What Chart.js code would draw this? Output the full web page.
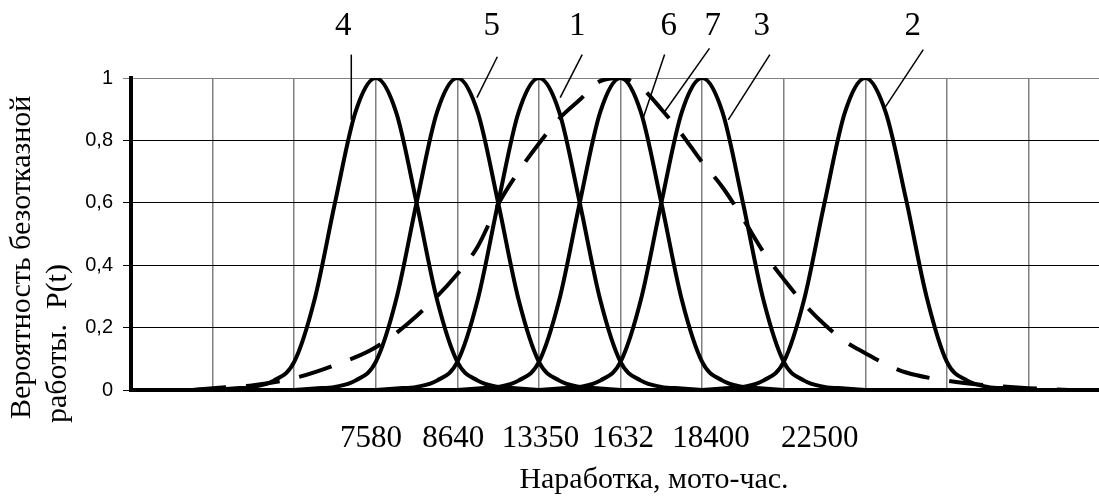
<!DOCTYPE html>
<html>
<head>
<meta charset="utf-8">
<script src="https://cdn.jsdelivr.net/npm/chart.js@4.4.1/dist/chart.umd.min.js"></script>
<style>
html,body{margin:0;padding:0;overflow:hidden;background:#fff}
#wrap{width:1180px;height:499px;position:relative}
</style>
</head>
<body>
<div id="wrap"><canvas id="c"></canvas></div>
<script>
// x is measured in grid intervals (one vertical grid cell = 1 unit)
const bellOffsets = [-2,-1.75,-1.5,-1.25,-1,-0.75,-0.5,-0.25,0,0.25,0.5,0.75,1,1.25,1.5,1.75,2];
const curveNames = ['1','2','3','4','5','6'];
const curvePeaks = [5, 9, 7, 3, 4, 6];
const curve1 = [0,0.005,0.01,0.03,0.09,0.29,0.6,0.89,1,0.89,0.6,0.29,0.09,0.03,0.01,0.005,0];
const curve2 = [0,0.005,0.01,0.03,0.09,0.29,0.6,0.89,1,0.89,0.61,0.3,0.09,0.03,0.01,0.005,0];
const curve3 = [0,0.005,0.01,0.03,0.09,0.29,0.6,0.89,1,0.89,0.6,0.29,0.09,0.03,0.01,0.005,0];
const curve4 = [0,0.005,0.01,0.03,0.09,0.29,0.6,0.89,1,0.89,0.6,0.29,0.09,0.03,0.01,0.005,0];
const curve5 = [0,0.005,0.01,0.03,0.09,0.29,0.6,0.89,1,0.89,0.6,0.29,0.09,0.03,0.01,0.005,0];
const curve6 = [0,0.005,0.01,0.03,0.09,0.29,0.6,0.89,1,0.89,0.6,0.29,0.09,0.03,0.01,0.005,0];
const curve7X = [0.75,1,1.5,2,2.5,3,3.5,4,4.25,4.5,4.75,5,5.25,5.5,5.75,6,6.25,6.5,6.75,7,7.25,7.5,7.75,8,8.25,8.5,8.75,9,9.25,9.5,10,10.5,11,11.5];
const curve7Y = [0,0.006,0.015,0.038,0.08,0.137,0.237,0.372,0.46,0.595,0.70,0.79,0.87,0.93,0.99,1,0.97,0.9,0.82,0.73,0.65,0.55,0.443,0.355,0.276,0.21,0.156,0.118,0.083,0.056,0.03,0.015,0.006,0];
const xGridLines = [0,1,2,3,4,5,6,7,8,9,10,11,12];
const xTickPos = [2.94,3.95,5.02,6.03,7.11,8.44];
const xTickLabels = ['7580','8640','13350','1632','18400','22500'];
const yTickValues = [0,0.2,0.4,0.6,0.8,1];
const yTickLabels = ['0','0,2','0,4','0,6','0,8','1'];
const xTitle = 'Наработка, мото-час.';
const yTitleLines = ['Вероятность безотказной', 'работы.  P(t)'];

// callout labels with leader lines (data units)
const callouts = [
  {text:'4', tx:2.60, ty:1.165, x1:2.70, y1:1.075, x2:2.70, y2:0.866},
  {text:'5', tx:4.42, ty:1.165, x1:4.49, y1:1.068, x2:4.24, y2:0.937},
  {text:'1', tx:5.47, ty:1.165, x1:5.53, y1:1.075, x2:5.26, y2:0.937},
  {text:'6', tx:6.59, ty:1.165, x1:6.54, y1:1.075, x2:6.27, y2:0.866},
  {text:'7', tx:7.13, ty:1.165, x1:7.09, y1:1.095, x2:6.54, y2:0.892},
  {text:'3', tx:7.73, ty:1.165, x1:7.83, y1:1.075, x2:7.32, y2:0.866},
  {text:'2', tx:9.58, ty:1.165, x1:9.71, y1:1.091, x2:9.24, y2:0.905}
];

const bells = [curve1, curve2, curve3, curve4, curve5, curve6];
const datasets = curvePeaks.map((p, i) => ({
  label: curveNames[i],
  data: bellOffsets.map((o, j) => ({x: p + o, y: bells[i][j]})),
  borderColor: '#000', borderWidth: 4, pointRadius: 0,
  cubicInterpolationMode: 'monotone', fill: false
}));
datasets.push({
  label: '7',
  data: curve7X.map((x, j) => ({x: x, y: curve7Y[j]})),
  borderColor: '#000', borderWidth: 4, pointRadius: 0, borderDash: [34, 20],
  cubicInterpolationMode: 'monotone', fill: false
});

const overlay = {
  id: 'overlay',
  afterDraw(chart) {
    const ctx = chart.ctx, xs = chart.scales.x, ys = chart.scales.y;
    ctx.save();
    ctx.strokeStyle = '#000'; ctx.fillStyle = '#000'; ctx.lineWidth = 1.5;
    ctx.font = '33px "Liberation Serif"';
    ctx.textAlign = 'center'; ctx.textBaseline = 'middle';
    callouts.forEach(c => {
      ctx.beginPath();
      ctx.moveTo(xs.getPixelForValue(c.x1), ys.getPixelForValue(c.y1));
      ctx.lineTo(xs.getPixelForValue(c.x2), ys.getPixelForValue(c.y2));
      ctx.stroke();
      ctx.fillText(c.text, xs.getPixelForValue(c.tx), ys.getPixelForValue(c.ty));
    });
    ctx.font = '30px "Liberation Serif"';
    ctx.textAlign = 'left';
    const yPos = [[22, 419], [58, 423]];
    yTitleLines.forEach((t, i) => {
      ctx.save();
      ctx.translate(yPos[i][0], yPos[i][1]);
      ctx.rotate(-Math.PI / 2);
      ctx.fillText(t, 0, 0);
      ctx.restore();
    });
    ctx.restore();
  }
};

new Chart(document.getElementById('c'), {
  type: 'line',
  data: {datasets: datasets},
  options: {
    responsive: true, maintainAspectRatio: false, animation: false,
    layout: {padding: {top: 78, right: 3, left: 0, bottom: 0}},
    plugins: {legend: {display: false}, tooltip: {enabled: false}},
    scales: {
      x: {
        type: 'linear', min: 0, max: 12.82,
        afterBuildTicks: s => {
          s.ticks = xGridLines.concat(xTickPos).sort((a, b) => a - b).map(v => ({value: v}));
        },
        afterFit: s => { s.height = 109; },
        grid: {
          color: c => (c.tick && xGridLines.includes(c.tick.value)) ? '#808080' : 'rgba(0,0,0,0)',
          lineWidth: 1.5, drawTicks: false
        },
        border: {display: true, color: '#000', width: 4},
        ticks: {
          autoSkip: false, maxRotation: 0, padding: 30, color: '#000',
          font: {family: '"Liberation Serif"', size: 31},
          callback: v => { const i = xTickPos.indexOf(v); return i >= 0 ? xTickLabels[i] : ''; }
        },
        title: {
          display: true, text: xTitle, color: '#000',
          font: {family: '"Liberation Serif"', size: 30},
          padding: {top: 0, bottom: 1}
        }
      },
      y: {
        type: 'linear', min: 0, max: 1,
        afterBuildTicks: s => { s.ticks = yTickValues.map(v => ({value: v})); },
        afterFit: s => { s.width = 131; },
        grid: {
          color: c => (c.tick && c.tick.value === 1) ? '#808080' : '#000',
          lineWidth: 1, drawTicks: true, tickLength: 8
        },
        border: {display: true, color: '#000', width: 4},
        ticks: {
          padding: 10, color: '#000',
          font: {family: '"Liberation Sans"', size: 20},
          callback: (v, i) => yTickLabels[yTickValues.indexOf(v)]
        }
      }
    }
  },
  plugins: [overlay]
});
</script>
</body>
</html>
